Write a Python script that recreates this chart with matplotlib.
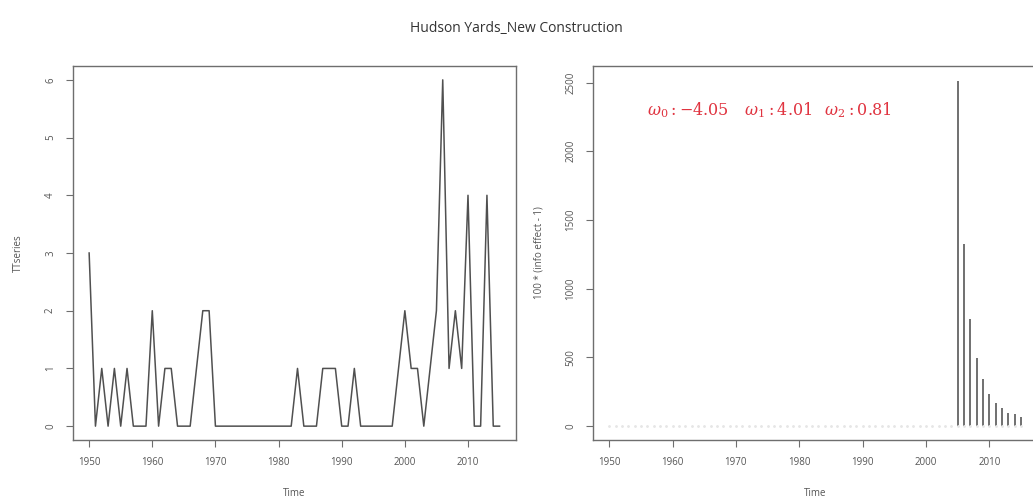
import numpy as np
import matplotlib.pyplot as plt

# yearly counts, 1950-2015
years = np.arange(1950, 2016)
ttseries = [3, 0, 1, 0, 1, 0, 1, 0, 0, 0,
            2, 0, 1, 1, 0, 0, 0, 1, 2, 2,
            0, 0, 0, 0, 0, 0, 0, 0, 0, 0,
            0, 0, 0, 1, 0, 0, 0, 1, 1, 1,
            0, 0, 1, 0, 0, 0, 0, 0, 0, 1,
            2, 1, 1, 0, 1, 2, 6, 1, 2, 1,
            4, 0, 0, 4, 0, 0]

# intervention effect, 100*(effect-1), zero before 2005
effect_tail = [2513, 1323, 777, 498, 340, 231, 170, 134, 97, 85, 68]
effect = [0] * (len(years) - len(effect_tail)) + effect_tail

omegas = [-4.05, 4.01, 0.81]

title = "Hudson Yards_New Construction"

frame_col = "#6e6e6e"
text_col = "#555555"

plt.rcParams['font.family'] = ['Open Sans', 'DejaVu Sans']
plt.rcParams['mathtext.fontset'] = 'dejavuserif'

fig = plt.figure(figsize=(10.33, 5.0), dpi=100)
ax1 = fig.add_axes([0.0704, 0.12, 0.4291, 0.748])
ax2 = fig.add_axes([0.5738, 0.12, 0.4305, 0.748])


def style_axis(ax, yticks, ylabel):
    for s in ax.spines.values():
        s.set_color(frame_col)
        s.set_linewidth(1.0)
    ax.set_xticks(np.arange(1950, 2011, 10))
    ax.set_yticks(yticks)
    ax.set_yticklabels([str(v) for v in yticks], rotation=90, va='center')
    ax.tick_params(colors=frame_col, labelcolor=text_col, labelsize=7,
                   length=5, width=0.8, pad=7)
    ax.set_xlabel("Time", fontsize=7, color=text_col, labelpad=15)
    ax.set_ylabel(ylabel, fontsize=7, color=text_col, labelpad=15)
    ax.set_xlim(1947.4, 2017.6)


# left: raw series
ax1.plot(years, ttseries, color="#505050", lw=1.1)
ax1.set_ylim(-0.24, 6.24)
style_axis(ax1, list(range(0, 7)), "TTseries")

# right: effect as vertical stems
ax2.vlines(years, 0, effect, color="#707070", lw=1.4)
ax2.plot(years, np.zeros(len(years)), ls='none', marker='o', ms=1.0,
         color="#e6e6e6")
ax2.set_ylim(-100.8, 2620.8)
style_axis(ax2, [0, 500, 1000, 1500, 2000, 2500], "100 * (info effect - 1)")

label = (r"$\omega_0 : {-}%.2f$    $\omega_1 : %.2f$   $\omega_2 : %.2f$"
         % (abs(omegas[0]), omegas[1], omegas[2]))
ax2.text(1975.3, 2300, label, color="#e03440", fontsize=11.5,
         ha='center', va='center')

fig.suptitle(title, x=0.5, y=0.944, va='center', fontsize=10, color="#333333")

fig.savefig("out.png", dpi=100)
